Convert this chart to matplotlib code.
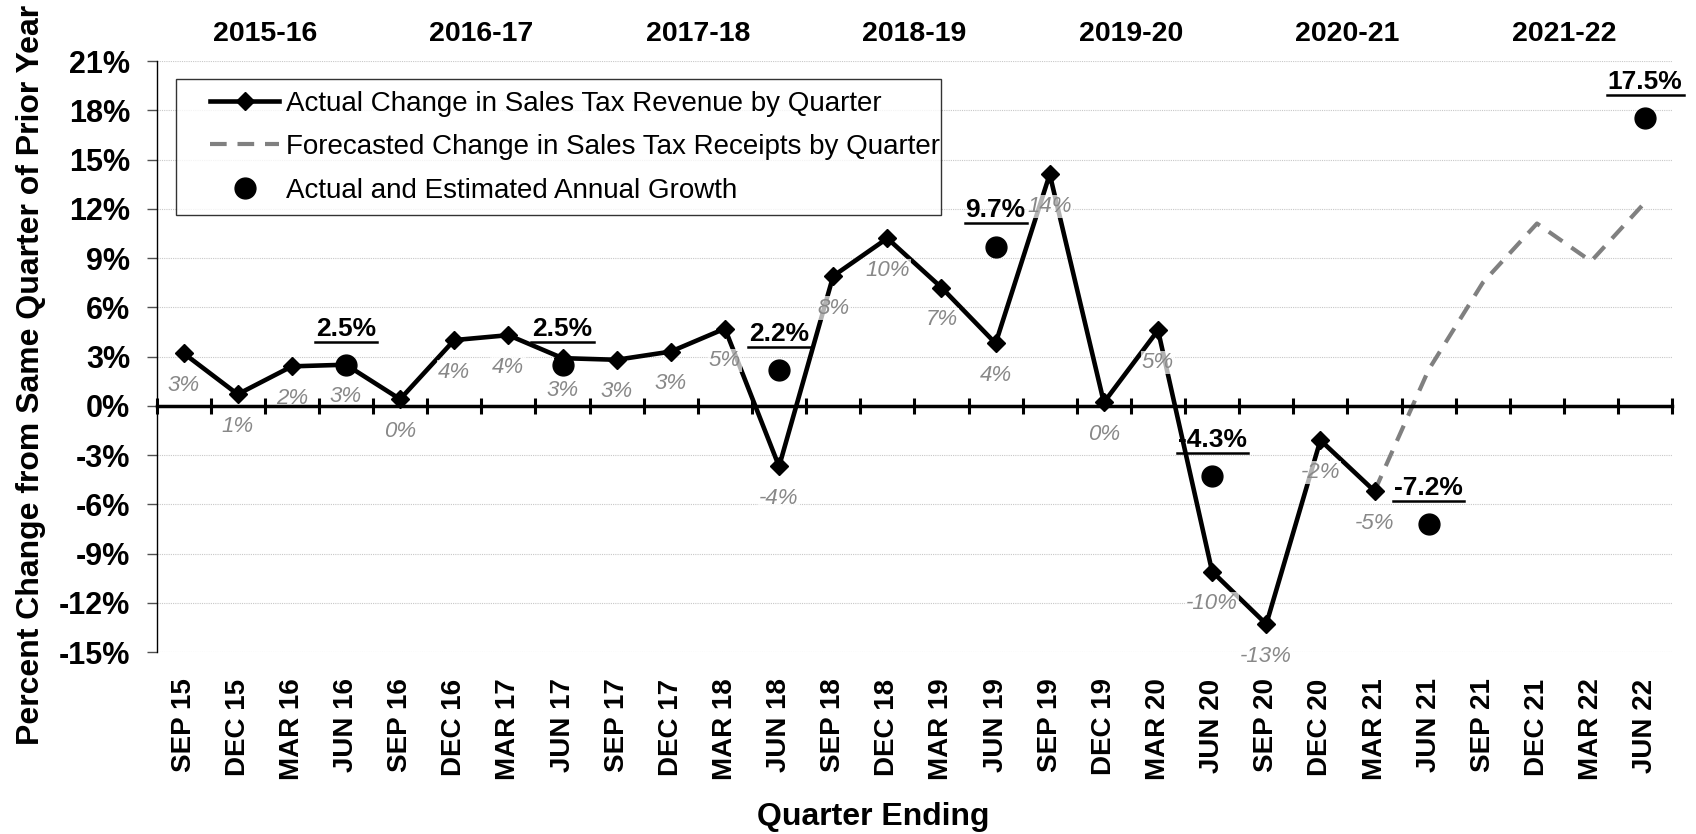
import numpy as np
import matplotlib
matplotlib.use("Agg")
import matplotlib.pyplot as plt
from matplotlib.lines import Line2D
from matplotlib.legend_handler import HandlerLine2D
import matplotlib.transforms as mtransforms

plt.rcParams['font.family'] = ['Liberation Sans', 'DejaVu Sans']

quarters = ["SEP 15", "DEC 15", "MAR 16", "JUN 16", "SEP 16", "DEC 16", "MAR 17",
            "JUN 17", "SEP 17", "DEC 17", "MAR 18", "JUN 18", "SEP 18", "DEC 18",
            "MAR 19", "JUN 19", "SEP 19", "DEC 19", "MAR 20", "JUN 20", "SEP 20",
            "DEC 20", "MAR 21", "JUN 21", "SEP 21", "DEC 21", "MAR 22", "JUN 22"]
fiscal_years = ["2015-16", "2016-17", "2017-18", "2018-19", "2019-20", "2020-21", "2021-22"]

# actual quarterly change, SEP 15 .. MAR 21
actual = [3.2, 0.7, 2.4, 2.5, 0.4, 4.0, 4.3, 2.9, 2.8, 3.3, 4.7, -3.7, 7.9, 10.2,
          7.2, 3.8, 14.1, 0.2, 4.6, -10.1, -13.3, -2.1, -5.2]
# forecast, MAR 21 .. JUN 22
forecast_quarters = ["MAR 21", "JUN 21", "SEP 21", "DEC 21", "MAR 22", "JUN 22"]
forecast = [-5.2, 2.2, 7.5, 11.1, 8.8, 12.4]
# annual growth, plotted at the June quarter of each fiscal year
annual_quarters = ["JUN 16", "JUN 17", "JUN 18", "JUN 19", "JUN 20", "JUN 21", "JUN 22"]
annual = [2.5, 2.5, 2.2, 9.7, -4.3, -7.2, 17.5]


class PadHandler(HandlerLine2D):
    # leaves some blank room left of the legend handle
    def __init__(self, pad, **kw):
        super().__init__(**kw)
        self.pad = pad

    def create_artists(self, legend, orig_handle, xdescent, ydescent, width, height,
                       fontsize, trans):
        return super().create_artists(legend, orig_handle, xdescent - self.pad, ydescent,
                                      width - self.pad, height, fontsize, trans)


W, H = 1696, 834
fig = plt.figure(figsize=(W / 100, H / 100), dpi=100)
ax = fig.add_axes([156.5 / W, 1 - 652 / H, (1672.3 - 156.5) / W, (652 - 61) / H])

x_act = np.arange(len(actual))
x_fc = [quarters.index(q) for q in forecast_quarters]
x_ann = [quarters.index(q) for q in annual_quarters]

fc_line, = ax.plot(x_fc, forecast, color='#808080', lw=3, dashes=(4, 2.6), zorder=3,
                   label='Forecasted Change in Sales Tax Receipts by Quarter')
act_line, = ax.plot(x_act, actual, color='black', lw=3.3, marker='D', ms=9, zorder=4,
                    label='Actual Change in Sales Tax Revenue by Quarter')
ann_pts, = ax.plot(x_ann, annual, ls='none', marker='o', ms=15, color='black', zorder=5,
                   label='Actual and Estimated Annual Growth')

# quarterly data labels
for xi, v in zip(x_act, actual):
    ax.annotate(f"{int(np.floor(v + 0.5))}%", (xi, v), xytext=(0, -23),
                textcoords='offset points', ha='center', va='center',
                fontsize=16, style='italic', color='#888888', zorder=6,
                bbox=dict(boxstyle='square,pad=0.05', fc='white', ec='none', alpha=0.7))

ann_texts = []
for xi, v in zip(x_ann, annual):
    t = ax.annotate(f"{v:.1f}%", (xi, v), xytext=(0, 26), textcoords='offset points',
                    ha='center', va='center', fontsize=19, fontweight='bold', zorder=6)
    ann_texts.append(t)

ax.set_xlim(-0.5, len(quarters) - 0.5)
ax.set_ylim(-15, 21)
ax.set_yticks(np.arange(-15, 22, 3))
ax.set_yticklabels([f"{t}%" for t in range(-15, 22, 3)])
ax.set_xticks(np.arange(len(quarters)))
ax.set_xticklabels(quarters, rotation=90, fontweight='bold', fontsize=20)
ax.tick_params(axis='x', length=0, pad=19)
ax.tick_params(axis='y', length=7, width=1, color='#505050', pad=12, labelsize=22)
for lab in ax.get_yticklabels():
    lab.set_fontweight('bold')
ax.yaxis.grid(True, linestyle=(0, (1, 1)), color='#c8c8c8', lw=0.8)
ax.set_axisbelow(True)
for s in ['top', 'right', 'bottom']:
    ax.spines[s].set_visible(False)
ax.spines['left'].set_linewidth(1)

ax.set_ylabel("Percent Change from Same Quarter of Prior Year", fontsize=23, fontweight='bold')
ax.yaxis.set_label_coords(-0.073, 0.469)
ax.set_xlabel("Quarter Ending", fontsize=23, fontweight='bold')
ax.xaxis.set_label_coords(0.473, -0.254)

# zero line with category dividers
ax2 = ax.twiny()
ax2.set_xlim(ax.get_xlim())
ax2.xaxis.set_ticks_position('bottom')
ax2.spines['bottom'].set_position(('data', 0))
ax2.spines['bottom'].set_linewidth(2.5)
for s in ['top', 'right', 'left']:
    ax2.spines[s].set_visible(False)
ax2.set_xticks(np.arange(len(quarters) + 1) - 0.5)
ax2.set_xticklabels([])
ax2.tick_params(axis='x', direction='inout', length=12, width=2.2)

# fiscal year headers
trans = mtransforms.blended_transform_factory(ax.transData, ax.transAxes)
for i, fy in enumerate(fiscal_years):
    ax.text(4 * i + 1.5, 1.0465, fy, transform=trans, ha='center', va='center',
            fontsize=20.5, fontweight='bold')

fs = 20
pad = 16
leg = ax.legend([act_line, fc_line, ann_pts],
                [act_line.get_label(), fc_line.get_label(), ann_pts.get_label()],
                loc='upper left', bbox_to_anchor=(0.0129, 0.5, 0.5046, 0.4695),
                mode='expand', borderaxespad=0, fontsize=fs, frameon=True,
                fancybox=False, handlelength=3.3, handletextpad=0.25,
                labelspacing=0.63, borderpad=0.42,
                handler_map={act_line: PadHandler(pad), fc_line: PadHandler(pad),
                             ann_pts: PadHandler(pad)})
leg.get_frame().set_edgecolor('black')
leg.get_frame().set_linewidth(1)
leg.set_zorder(10)

# underline annual labels
fig.canvas.draw()
r = fig.canvas.get_renderer()
inv = fig.transFigure.inverted()
for t in ann_texts:
    bb = t.get_window_extent(r)
    (x0, y0), (x1, _) = inv.transform([(bb.x0 - 1, bb.y0 - 1), (bb.x1 + 1, bb.y0)])
    fig.add_artist(Line2D([x0, x1], [y0, y0], transform=fig.transFigure,
                          color='black', lw=1.8))

fig.savefig("out.png", dpi=100)
